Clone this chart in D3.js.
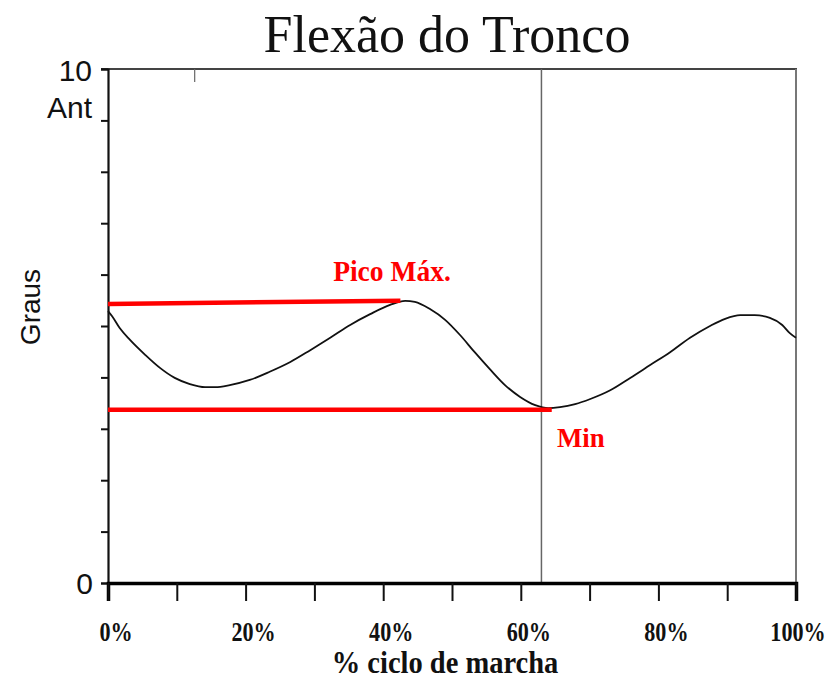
<!DOCTYPE html>
<html>
<head>
<meta charset="utf-8">
<script src="https://cdn.jsdelivr.net/npm/d3@7/dist/d3.min.js"></script>
<style>
  html, body { margin: 0; padding: 0; background: #fff; }
  svg { display: block; }
</style>
</head>
<body>
<svg id="chart" width="830" height="682"></svg>
<script>
// Trunk flexion over the gait cycle (degrees, % of cycle)
const cyclePct = [0, 0.6, 1.7, 3.2, 5.4, 7.6, 9.7, 11.9, 14.1, 15.6, 17.7, 20.6, 23.5, 26.5, 29.4,
  32.3, 35.2, 38.1, 41.0, 43.2, 44.6, 46.8, 49.0, 51.2, 53.3, 55.5, 57.7, 59.9, 62.1, 64.0, 65.7,
  67.9, 70.1, 73.0, 75.9, 78.8, 81.7, 84.6, 87.5, 89.7, 91.9, 94.0, 96.2, 98.0, 99.1, 100];
const flexionDeg = [5.29, 5.19, 4.96, 4.73, 4.44, 4.18, 3.99, 3.87, 3.81, 3.81, 3.85, 3.95, 4.11, 4.30, 4.53,
  4.77, 5.02, 5.23, 5.41, 5.49, 5.47, 5.33, 5.12, 4.82, 4.49, 4.16, 3.85, 3.62, 3.46, 3.40, 3.42,
  3.48, 3.58, 3.75, 3.99, 4.24, 4.49, 4.77, 5.00, 5.14, 5.21, 5.21, 5.16, 5.02, 4.86, 4.77];

const xTickValues = [0, 10, 20, 30, 40, 50, 60, 70, 80, 90, 100];
const xTickLabels = ["0%", "", "20%", "", "40%", "", "60%", "", "80%", "", "100%"];
const yTickValues = [0, 1, 2, 3, 4, 5, 6, 7, 8, 9, 10];
const toeOffPct = 63;
const topMarkPct = 12.6;

// Reference lines for the maximum peak and the minimum
const peakLine = { label: "Pico Máx.", from: [0, 5.43], to: [42.5, 5.49] };
const minLine = { label: "Min", from: [0, 3.37], to: [64.5, 3.37] };

const svg = d3.select("#chart");
const plotLeft = 108, plotRight = 796, plotTop = 69, plotBottom = 583;

const x = d3.scaleLinear().domain([0, 100]).range([plotLeft, plotRight]);
const y = d3.scaleLinear().domain([0, 10]).range([plotBottom, plotTop]);

const sans = "'Liberation Sans', Arial, Helvetica, sans-serif";
const serif = "'Liberation Serif', 'Times New Roman', serif";

// Bold serif text narrowed horizontally
function narrowText(parent, px, py, sx, size, fill, anchor, str) {
  return parent.append("text")
    .attr("transform", `translate(${px},${py}) scale(${sx},1)`)
    .attr("text-anchor", anchor)
    .attr("font-family", serif).attr("font-weight", "bold").attr("font-size", size)
    .attr("fill", fill)
    .text(str);
}

// Title
svg.append("text")
  .attr("x", 447).attr("y", 52)
  .attr("text-anchor", "middle")
  .attr("font-family", serif)
  .attr("font-size", 52)
  .attr("fill", "#111")
  .text("Flexão do Tronco");

// Frame: top and right edges
svg.append("line")
  .attr("x1", plotLeft - 7).attr("x2", plotRight + 1)
  .attr("y1", plotTop).attr("y2", plotTop)
  .attr("stroke", "#444").attr("stroke-width", 2);
svg.append("line")
  .attr("x1", plotRight).attr("x2", plotRight)
  .attr("y1", plotTop).attr("y2", plotBottom)
  .attr("stroke", "#777").attr("stroke-width", 2);

// Small mark on the top edge
svg.append("line")
  .attr("x1", x(topMarkPct)).attr("x2", x(topMarkPct))
  .attr("y1", plotTop).attr("y2", plotTop + 13)
  .attr("stroke", "#666").attr("stroke-width", 1.2);

// Toe-off vertical line
svg.append("line")
  .attr("x1", x(toeOffPct)).attr("x2", x(toeOffPct))
  .attr("y1", plotTop).attr("y2", plotBottom)
  .attr("stroke", "#666").attr("stroke-width", 1.5);

// Y axis (ticks only, labels drawn separately)
const yAxis = d3.axisLeft(y).tickValues(yTickValues).tickSize(7).tickFormat("");
const gy = svg.append("g").attr("transform", `translate(${plotLeft},0)`).call(yAxis);
gy.select(".domain").attr("stroke", "#111").attr("stroke-width", 2.2);
gy.selectAll(".tick line").attr("stroke", "#111").attr("stroke-width", 2);

svg.append("text").attr("x", 92).attr("y", y(10) + 12)
  .attr("text-anchor", "end").attr("font-family", sans).attr("font-size", 30)
  .attr("fill", "#111").text("10");
svg.append("text").attr("x", 92).attr("y", y(9) - 2)
  .attr("text-anchor", "end").attr("font-family", sans).attr("font-size", 30)
  .attr("fill", "#111").text("Ant");
svg.append("text").attr("x", 93).attr("y", y(0) + 11)
  .attr("text-anchor", "end").attr("font-family", sans).attr("font-size", 30)
  .attr("fill", "#111").text("0");

svg.append("text")
  .attr("transform", `translate(40,307) rotate(-90)`)
  .attr("text-anchor", "middle").attr("font-family", sans).attr("font-size", 28)
  .attr("fill", "#111").text("Graus");

// X axis
const xAxis = d3.axisBottom(x).tickValues(xTickValues).tickSize(18).tickFormat("");
const gx = svg.append("g").attr("transform", `translate(0,${plotBottom})`).call(xAxis);
gx.select(".domain").attr("stroke", "#000").attr("stroke-width", 3.5);
gx.selectAll(".tick line").attr("stroke", "#111").attr("stroke-width", 2);

const xLabels = svg.append("g");
xTickValues.forEach((d, i) => {
  if (!xTickLabels[i]) return;
  narrowText(xLabels, x(d) + (d === 100 ? 2 : 8), 641, 0.82, 27, "#111", "middle", xTickLabels[i]);
});

narrowText(svg, 445, 673, 0.92, 31, "#111", "middle", "% ciclo de marcha");

// Curve
const line = d3.line()
  .x((d, i) => x(cyclePct[i]))
  .y(d => y(d))
  .curve(d3.curveMonotoneX);
svg.append("path")
  .datum(flexionDeg)
  .attr("d", line)
  .attr("fill", "none")
  .attr("stroke", "#111")
  .attr("stroke-width", 1.8);

// Red reference lines and labels
[peakLine, minLine].forEach(r => {
  svg.append("line")
    .attr("x1", x(r.from[0])).attr("y1", y(r.from[1]))
    .attr("x2", x(r.to[0])).attr("y2", y(r.to[1]))
    .attr("stroke", "#f00").attr("stroke-width", 4.5);
});
narrowText(svg, 392, 281, 0.95, 29, "#f00", "middle", peakLine.label);
narrowText(svg, 557, 447, 0.96, 28, "#f00", "start", minLine.label);
</script>
</body>
</html>
